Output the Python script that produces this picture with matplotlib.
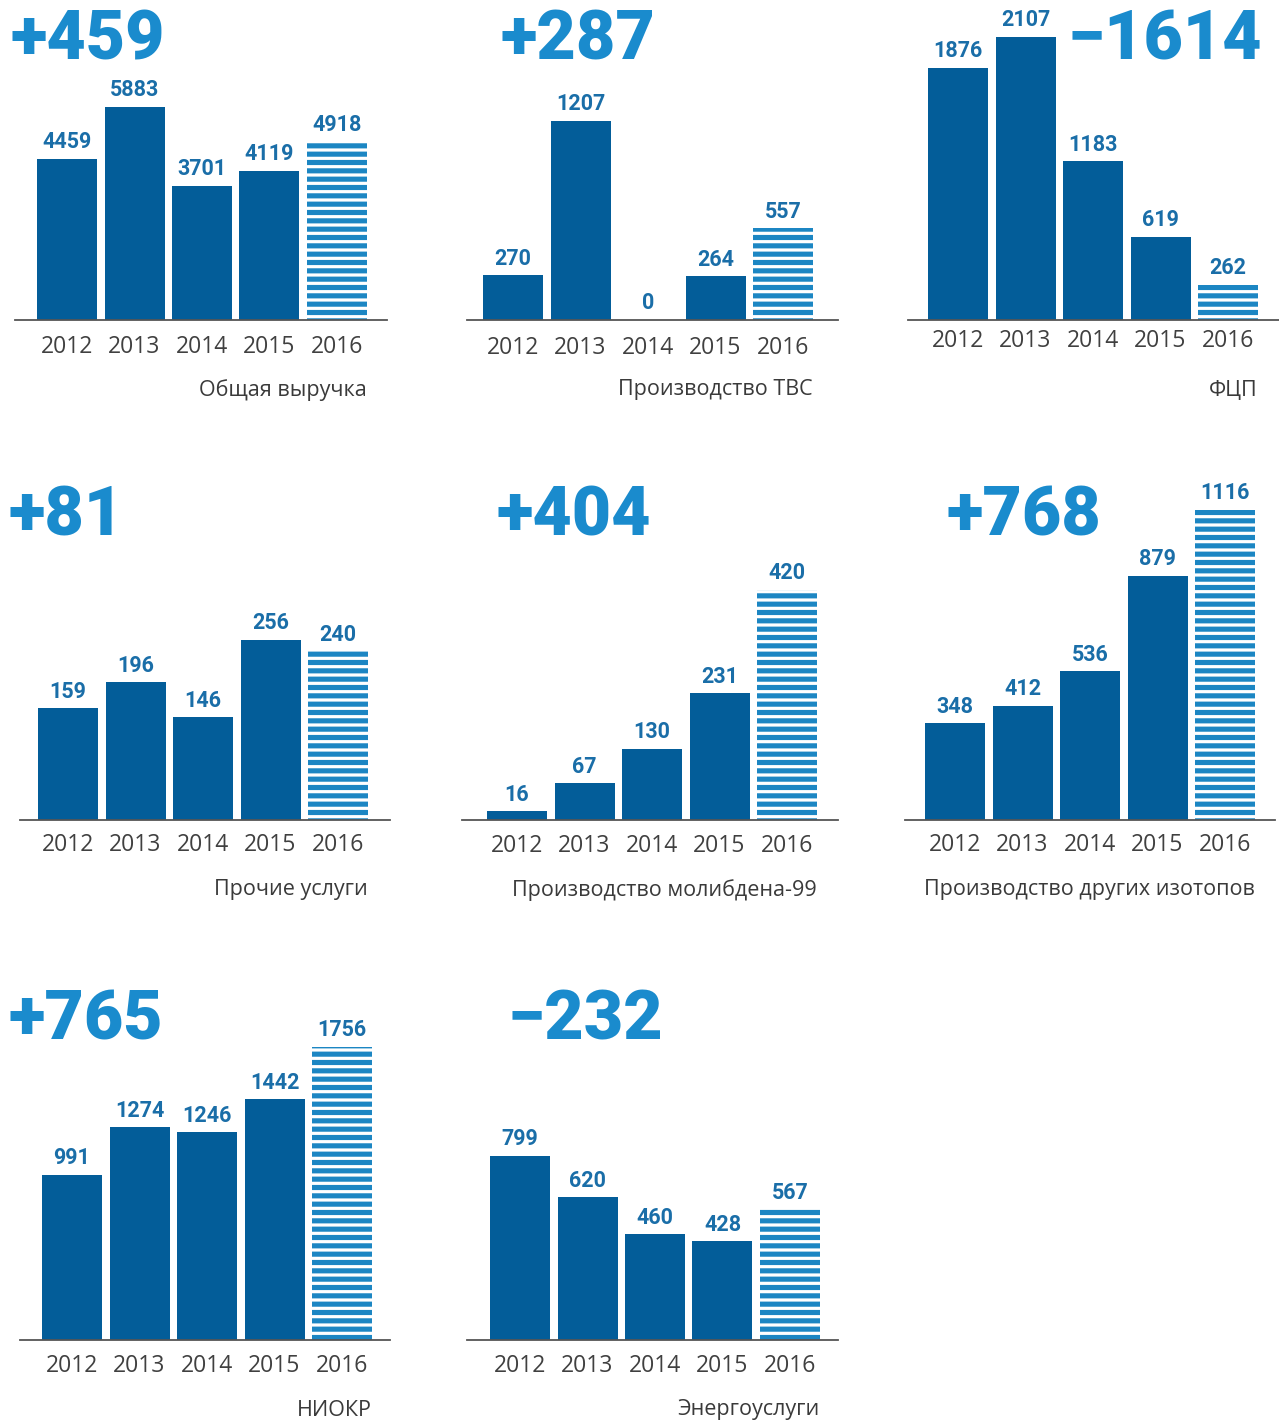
import matplotlib.pyplot as plt

# выручка по направлениям, 2012-2016
years = ['2012', '2013', '2014', '2015', '2016']

titles = ['Общая выручка', 'Производство ТВС', 'ФЦП',
          'Прочие услуги', 'Производство молибдена-99', 'Производство других изотопов',
          'НИОКР', 'Энергоуслуги']
deltas = ['+459', '+287', '−1614', '+81', '+404', '+768', '+765', '−232']

total = [4459, 5883, 3701, 4119, 4918]
tvs = [270, 1207, 0, 264, 557]
fcp = [1876, 2107, 1183, 619, 262]
other = [159, 196, 146, 256, 240]
mo99 = [16, 67, 130, 231, 420]
isotopes = [348, 412, 536, 879, 1116]
niokr = [991, 1274, 1246, 1442, 1756]
energy = [799, 620, 460, 428, 567]

series = [total, tvs, fcp, other, mo99, isotopes, niokr, energy]

W, H = 1279, 1428
AX_H = 330
PITCH = 67.5
BAR_W = 60 / PITCH

# pixel layout of each panel: first bar centre, line start/end, baseline,
# pixel height of the tallest bar, year label offset, big number x, baseline y, alignment
layout = [
    (67, 15, 387, 320, 213, 27, 10, 60, 'left'),
    (513, 467, 838, 320, 199, 28, 500, 60, 'left'),
    (958, 908, 1279, 320, 283, 21, 1262, 60, 'right'),
    (68, 20, 390, 820, 180, 25, 8, 535, 'left'),
    (517, 462, 838, 820, 230, 26, 496, 535, 'left'),
    (955, 905, 1275, 820, 310, 25, 946, 535, 'left'),
    (72, 20, 390, 1340, 293, 26, 8, 1040, 'left'),
    (520, 467, 838, 1340, 184, 26, 508, 1040, 'left'),
]

BAR = '#035d99'
STRIPE = '#1c86c3'
LABEL = '#1a6ea8'
BIG = '#1a8bcd'
YEAR = '#404040'

plt.rcParams['font.family'] = ['Roboto', 'DejaVu Sans']
plt.rcParams['hatch.linewidth'] = 3.7

fig = plt.figure(figsize=(W / 100, H / 100), dpi=100)

for vals, title, delta, lay in zip(series, titles, deltas, layout):
    c0, x0, x1, base, maxpx, ydy, bx, by, ha = lay
    ax = fig.add_axes([x0 / W, 1 - base / H, (x1 - x0) / W, AX_H / H])
    ax.set_xlim((x0 - c0) / PITCH, (x1 - c0) / PITCH)
    ax.set_ylim(0, max(vals) * AX_H / maxpx)

    xs = list(range(len(vals)))
    ax.bar(xs[:-1], vals[:-1], width=BAR_W, color=BAR, linewidth=0)
    ax.bar(xs[-1], vals[-1], width=BAR_W, facecolor='white', edgecolor=STRIPE,
           hatch='--', linewidth=0)

    for x, v in zip(xs, vals):
        ax.annotate(str(v), (x, v), xytext=(0, 4), textcoords='offset points',
                    ha='center', va='bottom', fontsize=15.5, fontweight='bold',
                    color=LABEL)
        ax.annotate(years[x], (x, 0), xycoords=('data', 'axes fraction'),
                    xytext=(0, -ydy * 0.72), textcoords='offset points',
                    ha='center', va='center', fontsize=16.5, color=YEAR,
                    family=['Open Sans', 'DejaVu Sans'])

    ax.annotate(title, (xs[-1] + BAR_W / 2, 0), xycoords=('data', 'axes fraction'),
                xytext=(0, -70 * 0.72), textcoords='offset points',
                ha='right', va='center', fontsize=15.5, color='#3a3a3a',
                family=['Open Sans', 'DejaVu Sans'])

    for s in ['top', 'left', 'right']:
        ax.spines[s].set_visible(False)
    ax.spines['bottom'].set_color('#555555')
    ax.spines['bottom'].set_linewidth(1.3)
    ax.set_xticks([])
    ax.set_yticks([])
    ax.patch.set_alpha(0)

    fig.text(bx / W, 1 - by / H, delta, ha=ha, va='baseline', fontsize=49,
             fontweight='black', color=BIG)

fig.savefig('out.png', dpi=100, facecolor='white')
